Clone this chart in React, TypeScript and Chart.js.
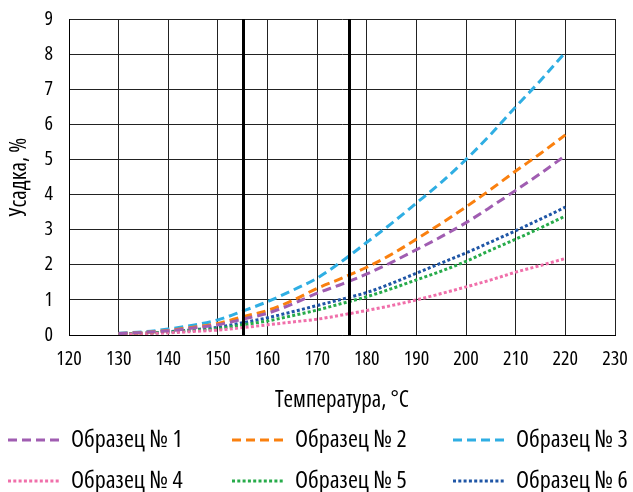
import React, { useEffect, useRef } from "react";
import { Chart, registerables } from "chart.js";

Chart.register(...registerables);

// ---- data ----
const temperatures = [130, 135, 140, 145, 150, 155, 160, 165, 170, 175, 180, 185, 190, 195, 200, 205, 210, 215, 220];
const sample1 = [0.04, 0.07, 0.12, 0.2, 0.29, 0.45, 0.62, 0.88, 1.19, 1.45, 1.74, 2.07, 2.43, 2.8, 3.2, 3.65, 4.12, 4.6, 5.11];
const sample2 = [0.04, 0.07, 0.13, 0.22, 0.33, 0.52, 0.7, 0.98, 1.33, 1.62, 1.93, 2.3, 2.73, 3.18, 3.65, 4.15, 4.67, 5.17, 5.7];
const sample3 = [0.05, 0.09, 0.17, 0.28, 0.43, 0.68, 0.95, 1.27, 1.62, 2.1, 2.64, 3.18, 3.76, 4.35, 5.0, 5.72, 6.5, 7.25, 8.05];
const sample4 = [0.02, 0.04, 0.06, 0.1, 0.14, 0.21, 0.29, 0.37, 0.45, 0.57, 0.7, 0.84, 1.0, 1.18, 1.37, 1.57, 1.79, 1.98, 2.18];
const sample5 = [0.03, 0.05, 0.08, 0.13, 0.18, 0.29, 0.4, 0.55, 0.71, 0.9, 1.09, 1.32, 1.57, 1.82, 2.1, 2.42, 2.73, 3.05, 3.39];
const sample6 = [0.03, 0.05, 0.09, 0.15, 0.22, 0.35, 0.49, 0.66, 0.84, 1.02, 1.21, 1.47, 1.76, 2.05, 2.34, 2.65, 2.97, 3.3, 3.64];
const seriesLabels = ["Образец № 1", "Образец № 2", "Образец № 3", "Образец № 4", "Образец № 5", "Образец № 6"];
const seriesColors = ["#A05DB1", "#FA800F", "#2FAEE3", "#F06FAA", "#27AB4A", "#1F56A6"];
const seriesDashed = [true, true, true, false, false, false];
const markerTemps = [155, 176.5];
const xMin = 120;
const xMax = 230;
const xStep = 10;
const yMin = 0;
const yMax = 9;
const yStep = 1;
const xTitle = "Температура, °C";
const yTitle = "Усадка, %";

const FAMILY = "'Open Sans', 'DejaVu Sans Condensed', sans-serif";
const STRETCH = "condensed";
const TICK_SIZE = 20;
const TITLE_SIZE = 23;
const LEGEND_SIZE = 24;
const DASH = [9, 5];
const DOT = [3, 2.3];

const tickFont = { family: FAMILY, size: TICK_SIZE, weight: STRETCH };
const titleFont = { family: FAMILY, size: TITLE_SIZE, weight: STRETCH };

const markerLines = {
  id: "markerLines",
  afterDatasetsDraw(chart: any) {
    const { ctx, chartArea, scales } = chart;
    ctx.save();
    ctx.strokeStyle = "#000";
    ctx.lineWidth = 3;
    markerTemps.forEach((t) => {
      const x = Math.round(scales.x.getPixelForValue(t)) + 0.5;
      ctx.beginPath();
      ctx.moveTo(x, chartArea.top);
      ctx.lineTo(x, chartArea.bottom);
      ctx.stroke();
    });
    ctx.restore();
  },
};

const gridLegend = {
  id: "gridLegend",
  afterDraw(chart: any) {
    const { ctx } = chart;
    const cols = [8, 232, 453];
    const rows = [440, 481];
    chart.data.datasets.forEach((ds: any, i: number) => {
      const x = cols[i % 3];
      const y = rows[Math.floor(i / 3)];
      ctx.save();
      ctx.strokeStyle = ds.borderColor;
      ctx.lineWidth = 3;
      ctx.setLineDash(ds.borderDash || []);
      ctx.beginPath();
      ctx.moveTo(x, y);
      ctx.lineTo(x + 52, y);
      ctx.stroke();
      ctx.setLineDash([]);
      ctx.fillStyle = "#000";
      ctx.font = `${STRETCH} ${LEGEND_SIZE}px ${FAMILY}`;
      ctx.textBaseline = "middle";
      ctx.textAlign = "left";
      ctx.fillText(ds.label, x + 63, y);
      ctx.restore();
    });
  },
};

export default function App() {
  const ref = useRef<HTMLCanvasElement>(null);
  useEffect(() => {
    const series = [sample1, sample2, sample3, sample4, sample5, sample6];
    const chart = new Chart(ref.current!, {
      type: "line",
      data: {
        datasets: series.map((vals, i) => ({
          label: seriesLabels[i],
          data: temperatures.map((t, j) => ({ x: t, y: vals[j] })),
          borderColor: seriesColors[i],
          backgroundColor: seriesColors[i],
          borderWidth: 3,
          borderDash: seriesDashed[i] ? DASH : DOT,
          pointRadius: 0,
          fill: false,
          cubicInterpolationMode: "monotone",
        })),
      },
      options: {
        responsive: false,
        animation: false,
        devicePixelRatio: 1,
        layout: { padding: { top: 19, right: 18, left: 0, bottom: 80 } },
        plugins: {
          legend: { display: false },
          tooltip: { enabled: false },
        },
        scales: {
          x: {
            type: "linear",
            min: xMin,
            max: xMax,
            ticks: {
              stepSize: xStep,
              padding: 12,
              color: "#000",
              font: tickFont,
              maxRotation: 0,
            },
            grid: { color: "#222", lineWidth: 1, drawTicks: false },
            border: { color: "#000", width: 1 },
            title: {
              display: true,
              text: xTitle,
              color: "#000",
              font: titleFont,
              padding: { top: 21, bottom: -2 },
            },
            afterFit: (s: any) => {
              s.height = 77;
              s.paddingLeft = 0;
              s.paddingRight = 0;
            },
          },
          y: {
            type: "linear",
            min: yMin,
            max: yMax,
            ticks: {
              stepSize: yStep,
              padding: 16,
              color: "#000",
              font: tickFont,
            },
            grid: { color: "#222", lineWidth: 1, drawTicks: false },
            border: { color: "#000", width: 1 },
            title: {
              display: true,
              text: yTitle,
              color: "#000",
              font: titleFont,
              padding: { top: 6, bottom: 0 },
            },
            afterFit: (s: any) => {
              s.width = 69;
              s.paddingTop = 0;
              s.paddingBottom = 0;
            },
          },
        },
      } as any,
      plugins: [markerLines, gridLegend],
    });
    return () => chart.destroy();
  }, []);
  return (
    <div style={{ position: "fixed", left: 0, top: 0, width: 633, height: 492, background: "#fff" }}>
      <canvas ref={ref} width={633} height={492} style={{ display: "block", width: 633, height: 492 }} />
    </div>
  );
}
